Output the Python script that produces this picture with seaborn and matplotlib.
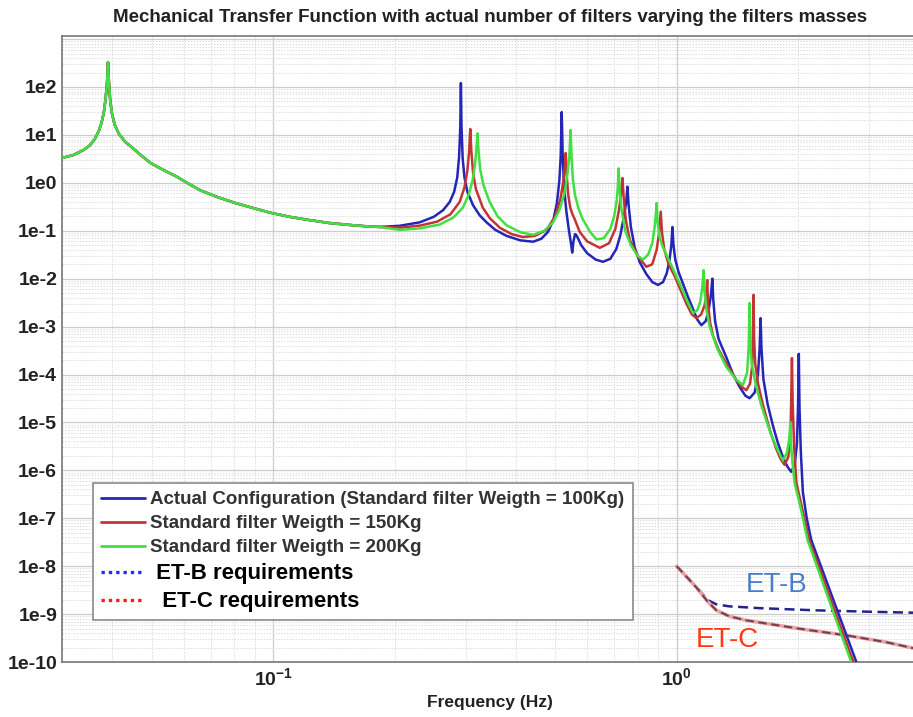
import numpy as np
import pandas as pd
import matplotlib
matplotlib.use("Agg")
import matplotlib.pyplot as plt
import seaborn as sns
from matplotlib.lines import Line2D
from matplotlib.ticker import LogLocator, FuncFormatter, NullFormatter

# --- data (frequency in Hz, transfer function magnitude) ---
# low-frequency part where the three configurations overlap
curve_common = [(0.0300, 3.3), (0.0320, 3.8), (0.0340, 4.9), (0.0352, 6.1), (0.0362, 8.3),
                (0.0370, 12), (0.0376, 18), (0.0381, 30), (0.0385, 60), (0.0388, 130),
                (0.0390, 330), (0.0392, 130), (0.0395, 52), (0.0399, 28), (0.0405, 16.5),
                (0.0415, 10.5), (0.0430, 7.2), (0.0446, 5.6), (0.0470, 3.8), (0.0497, 2.6),
                (0.0535, 1.85), (0.0573, 1.39), (0.0615, 0.98), (0.0660, 0.7), (0.0730, 0.5),
                (0.0806, 0.38), (0.0890, 0.3), (0.0980, 0.24), (0.110, 0.195), (0.123, 0.167),
                (0.138, 0.145), (0.155, 0.132), (0.170, 0.124), (0.184, 0.12)]

curve_100kg = [(0.206, 0.127), (0.231, 0.150), (0.250, 0.195), (0.264, 0.27), (0.274, 0.40),
               (0.281, 0.65), (0.286, 1.3), (0.289, 3.5), (0.291, 15), (0.292, 121),
               (0.293, 15), (0.295, 3.2), (0.298, 1.3), (0.303, 0.65), (0.313, 0.34),
               (0.325, 0.21), (0.338, 0.15), (0.355, 0.105), (0.379, 0.078), (0.410, 0.063),
               (0.441, 0.059), (0.462, 0.068), (0.480, 0.095), (0.495, 0.17), (0.505, 0.38),
               (0.512, 1.1), (0.516, 3.5), (0.519, 30), (0.522, 3.5), (0.526, 0.8),
               (0.533, 0.25), (0.541, 0.1), (0.548, 0.05), (0.551, 0.035), (0.555, 0.06),
               (0.560, 0.085), (0.565, 0.08), (0.580, 0.05), (0.600, 0.034), (0.630, 0.025),
               (0.657, 0.0225), (0.685, 0.026), (0.709, 0.042), (0.725, 0.08), (0.740, 0.2),
               (0.750, 0.4), (0.755, 0.83), (0.760, 0.35), (0.770, 0.12), (0.787, 0.045),
               (0.810, 0.022), (0.841, 0.0125), (0.870, 0.0085), (0.899, 0.0074), (0.925, 0.0085),
               (0.945, 0.013), (0.960, 0.025), (0.970, 0.05), (0.976, 0.12), (0.982, 0.05),
               (0.992, 0.025), (1.010, 0.014), (1.036, 0.0080), (1.065, 0.0043), (1.098, 2.3e-3),
               (1.125, 1.4e-3), (1.151, 1.07e-3), (1.180, 1.3e-3), (1.200, 2.2e-3), (1.214, 4.2e-3),
               (1.226, 0.010), (1.232, 3.6e-3), (1.245, 1.3e-3), (1.270, 5.5e-4), (1.327, 2.3e-4),
               (1.380, 1.0e-4), (1.432, 5.5e-5), (1.480, 3.6e-5), (1.516, 3.2e-5), (1.560, 4.2e-5),
               (1.590, 1e-4), (1.605, 3.5e-4), (1.614, 1.5e-3), (1.622, 3.5e-4), (1.640, 8e-5),
               (1.680, 2.4e-5), (1.732, 8.5e-6), (1.780, 3.8e-6), (1.833, 1.9e-6), (1.880, 1.2e-6),
               (1.922, 9.3e-7), (1.960, 1.3e-6), (1.985, 3.5e-6), (1.998, 2.1e-5), (2.007, 2.7e-4),
               (2.015, 2e-5), (2.030, 2.5e-6), (2.054, 3.5e-7), (2.100, 1e-7), (2.155, 3.5e-8),
               (2.786, 1e-10), (2.850, 6e-11)]

curve_150kg = [(0.206, 0.116), (0.231, 0.128), (0.255, 0.155), (0.275, 0.22), (0.290, 0.40),
               (0.298, 0.8), (0.303, 1.8), (0.306, 4.5), (0.308, 13.3), (0.310, 4.5),
               (0.313, 1.6), (0.318, 0.75), (0.331, 0.3), (0.345, 0.18), (0.365, 0.115),
               (0.390, 0.085), (0.416, 0.074), (0.445, 0.078), (0.476, 0.104), (0.500, 0.2),
               (0.515, 0.45), (0.524, 1.1), (0.529, 2.4), (0.531, 4.2), (0.534, 1.5),
               (0.538, 0.6), (0.545, 0.3), (0.552, 0.22), (0.558, 0.18), (0.575, 0.095),
               (0.600, 0.06), (0.645, 0.044), (0.680, 0.055), (0.705, 0.11), (0.720, 0.28),
               (0.728, 0.6), (0.734, 1.26), (0.739, 0.5), (0.748, 0.17), (0.765, 0.065),
               (0.800, 0.03), (0.841, 0.0177), (0.870, 0.02), (0.892, 0.04), (0.905, 0.095),
               (0.913, 0.25), (0.920, 0.09), (0.932, 0.04), (0.955, 0.02), (0.990, 0.011),
               (1.025, 5.5e-3), (1.057, 3e-3), (1.090, 1.8e-3), (1.119, 1.5e-3), (1.150, 1.8e-3),
               (1.173, 2.8e-3), (1.185, 5e-3), (1.190, 9.3e-3), (1.196, 3e-3), (1.210, 1.2e-3),
               (1.230, 6.5e-4), (1.270, 3.3e-4), (1.327, 1.7e-4), (1.400, 8e-5), (1.450, 5.5e-5),
               (1.488, 4.7e-5), (1.520, 6.5e-5), (1.538, 1.5e-4), (1.545, 7.2e-4), (1.550, 4.6e-3),
               (1.555, 6e-4), (1.565, 1.7e-4), (1.590, 6.5e-5), (1.630, 2.6e-5), (1.667, 1.3e-5),
               (1.710, 6e-6), (1.762, 2.9e-6), (1.810, 1.7e-6), (1.851, 1.3e-6), (1.890, 1.9e-6),
               (1.912, 4e-6), (1.922, 2.9e-5), (1.930, 2.2e-4), (1.938, 2.5e-5), (1.955, 3e-6),
               (1.980, 5.4e-7), (2.040, 1.8e-7), (2.130, 3.5e-8), (2.740, 1e-10), (2.810, 6e-11)]

curve_200kg = [(0.206, 0.104), (0.231, 0.112), (0.259, 0.135), (0.280, 0.19), (0.295, 0.3),
               (0.305, 0.55), (0.312, 1.1), (0.316, 2.2), (0.319, 5), (0.321, 10.8),
               (0.323, 4.5), (0.326, 1.9), (0.332, 0.9), (0.344, 0.4), (0.360, 0.2),
               (0.379, 0.13), (0.410, 0.093), (0.441, 0.082), (0.470, 0.1), (0.494, 0.15),
               (0.513, 0.28), (0.527, 0.6), (0.536, 1.5), (0.542, 3.5), (0.546, 12.6),
               (0.549, 3.5), (0.553, 1.2), (0.560, 0.55), (0.572, 0.28), (0.586, 0.17),
               (0.610, 0.095), (0.633, 0.066), (0.660, 0.07), (0.685, 0.11), (0.700, 0.2),
               (0.710, 0.42), (0.715, 0.85), (0.718, 2.0), (0.722, 0.7), (0.730, 0.28),
               (0.745, 0.1), (0.770, 0.05), (0.800, 0.03), (0.825, 0.025), (0.850, 0.032),
               (0.870, 0.055), (0.882, 0.12), (0.889, 0.25), (0.892, 0.38), (0.897, 0.15),
               (0.908, 0.07), (0.925, 0.045), (0.962, 0.022), (1.017, 0.008), (1.060, 3.5e-3),
               (1.098, 1.9e-3), (1.125, 2.2e-3), (1.145, 3.4e-3), (1.158, 6.8e-3), (1.166, 0.015),
               (1.172, 5.5e-3), (1.185, 2.2e-3), (1.207, 1e-3), (1.260, 3.5e-4), (1.327, 1.45e-4),
               (1.400, 8e-5), (1.459, 6e-5), (1.495, 1.1e-4), (1.508, 4e-4), (1.516, 3.1e-3),
               (1.522, 4e-4), (1.535, 1.6e-4), (1.575, 5.5e-5), (1.620, 2.3e-5), (1.667, 1.1e-5),
               (1.710, 5.8e-6), (1.762, 3.2e-6), (1.833, 1.6e-6), (1.875, 2.3e-6), (1.898, 4.2e-6),
               (1.914, 1e-5), (1.920, 3.5e-6), (1.935, 1.5e-6), (1.960, 5.4e-7), (2.030, 1.6e-7),
               (2.110, 3.5e-8), (2.706, 1e-10), (2.770, 6e-11)]

et_b_req = [(1.0, 1e-8), (1.119, 3.7e-9), (1.195, 1.95e-9), (1.254, 1.6e-9), (1.35, 1.45e-9),
            (1.605, 1.33e-9), (2.2, 1.2e-9), (3.0, 1.12e-9), (3.85, 1.07e-9)]
et_c_req = [(1.0, 1e-8), (1.119, 3.6e-9), (1.195, 1.8e-9), (1.254, 1.2e-9), (1.35, 9e-10),
            (1.488, 7.4e-10), (2.0, 5e-10), (2.63, 3.6e-10), (3.3, 2.6e-10), (3.85, 1.95e-10)]

labels = ["Actual Configuration (Standard filter Weigth = 100Kg)",
          "Standard filter Weigth = 150Kg",
          "Standard filter Weigth = 200Kg",
          " ET-B requirements",
          "  ET-C requirements"]
colors = ["#2525b8", "#c33535", "#3fe03f"]

XMIN, XMAX = 0.03, 3.85
YMIN, YMAX = 1e-10, 1160


def to_df(points):
    return pd.DataFrame(points, columns=["freq", "mag"])


def xfmt(v, p):
    if v < XMIN * 0.999 or v > XMAX:
        return ""
    return r"$\mathbf{10^{%d}}$" % int(round(np.log10(v)))


def yfmt(v, p):
    if v < YMIN * 0.999 or v > 500:
        return ""
    return "1e%d" % int(round(np.log10(v)))


sns.set_style("white")
plt.rcParams["font.family"] = ["Liberation Sans", "DejaVu Sans"]
plt.rcParams["mathtext.fontset"] = "custom"
plt.rcParams["mathtext.bf"] = "Liberation Sans:bold"

fig = plt.figure(figsize=(9.13, 7.17), dpi=100)
ax = fig.add_axes([0.0679, 0.0767, 0.9321, 0.8731])
ax.set_xscale("log")
ax.set_yscale("log")

# requirement curves
sns.lineplot(data=to_df(et_b_req), x="freq", y="mag", ax=ax, color="#23238f", lw=1.8,
             sort=False, estimator=None, zorder=2)
ax.lines[-1].set_dashes((4, 2.2))
sns.lineplot(data=to_df(et_c_req), x="freq", y="mag", ax=ax, color="#eba3a3", lw=2.6,
             sort=False, estimator=None, zorder=2)
sns.lineplot(data=to_df(et_c_req), x="freq", y="mag", ax=ax, color="#6e4450", lw=1.5,
             sort=False, estimator=None, zorder=2)
ax.lines[-1].set_dashes((4, 2.2))

# transfer functions
for pts, col in zip([curve_100kg, curve_150kg, curve_200kg], colors):
    sns.lineplot(data=to_df(curve_common + pts), x="freq", y="mag", ax=ax, color=col,
                 lw=1.8, sort=False, estimator=None, zorder=3)

ax.set_xlim(XMIN, XMAX)
ax.set_ylim(YMIN, YMAX)

ax.xaxis.set_major_locator(LogLocator(base=10, numticks=20))
ax.xaxis.set_minor_locator(LogLocator(base=10, subs=np.arange(2, 10), numticks=200))
ax.yaxis.set_major_locator(LogLocator(base=10, numticks=30))
ax.yaxis.set_minor_locator(LogLocator(base=10, subs=np.arange(2, 10), numticks=300))
ax.xaxis.set_minor_formatter(NullFormatter())
ax.yaxis.set_minor_formatter(NullFormatter())
ax.xaxis.set_major_formatter(FuncFormatter(xfmt))
ax.yaxis.set_major_formatter(FuncFormatter(yfmt))

ax.tick_params(which="both", direction="in", colors="#666666", labelcolor="#222222")
ax.tick_params(which="major", length=5)
ax.tick_params(axis="y", which="major", labelsize=14)
ax.tick_params(axis="x", which="major", labelsize=14)
ax.tick_params(which="minor", length=2.5)
for lab in ax.get_yticklabels():
    lab.set_fontweight("bold")

ax.grid(True, which="major", color="#cccccc", lw=0.9, ls="-")
ax.grid(True, which="minor", color="#dddddd", lw=0.7, ls=(0, (1.5, 1.5)))
for side in ["left", "bottom", "top"]:
    ax.spines[side].set_color("#777777")
    ax.spines[side].set_linewidth(1.2)
ax.spines["right"].set_visible(False)

ax.set_xlabel("Frequency (Hz)", fontsize=12.5, fontweight="bold", color="#222222")
ax.xaxis.set_label_coords(0.503, -0.052)
ax.set_ylabel("")

fig.text(0.537, 1 - 17 / 717,
         "Mechanical Transfer Function with actual number of filters varying the filters masses",
         ha="center", va="center", fontsize=13.5, fontweight="bold", color="#222222")

ax.text(1.764, 4.0e-9, "ET-B", color="#4a7ec6", fontsize=20, ha="center", va="center")
ax.text(1.333, 2.85e-10, "ET-C", color="#ff3a12", fontsize=20, ha="center", va="center")

handles = [Line2D([], [], color=colors[0], lw=2),
           Line2D([], [], color=colors[1], lw=2),
           Line2D([], [], color=colors[2], lw=2),
           Line2D([], [], color="#2a2aff", lw=2.4, ls=(0, (1, 1.2))),
           Line2D([], [], color="#ff1a1a", lw=2.4, ls=(0, (1, 1.2)))]
leg = ax.legend(handles, labels, loc="lower left", bbox_to_anchor=(0.0364, 0.067),
                fontsize=13.5, frameon=True, fancybox=False, framealpha=1,
                edgecolor="#8a8a8a", handlelength=2.3, handletextpad=0.3,
                labelspacing=0.36, borderpad=0.45, borderaxespad=0)
leg.get_frame().set_linewidth(1.2)
for i, t in enumerate(leg.get_texts()):
    t.set_fontweight("bold")
    if i < 3:
        t.set_color("#333333")
    else:
        t.set_color("black")
        t.set_fontsize(16)

fig.savefig("out.png", dpi=100)
